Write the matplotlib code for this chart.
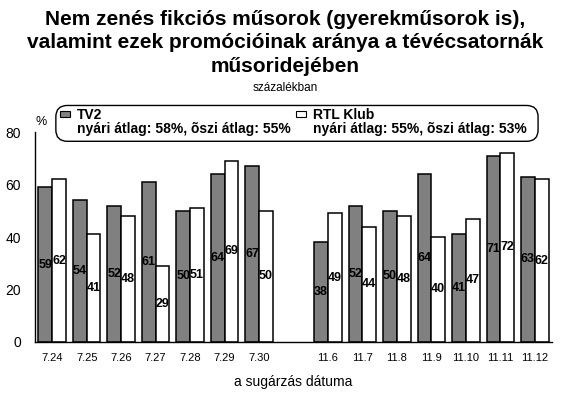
import numpy as np
import matplotlib
matplotlib.use('Agg')
import matplotlib.pyplot as plt
from matplotlib.patches import FancyBboxPatch, Rectangle

plt.rcParams['font.family'] = ['Liberation Sans', 'DejaVu Sans']

# adatok
dates = ['7.24', '7.25', '7.26', '7.27', '7.28', '7.29', '7.30', '',
         '11.6', '11.7', '11.8', '11.9', '11.10', '11.11', '11.12']
tv2 = [59, 54, 52, 61, 50, 64, 67, np.nan, 38, 52, 50, 64, 41, 71, 63]
rtl = [62, 41, 48, 29, 51, 69, 50, np.nan, 49, 44, 48, 40, 47, 72, 62]
series_names = ['TV2', 'RTL Klub']
series_notes = ['nyári átlag: 58%, õszi átlag: 55%',
                'nyári átlag: 55%, õszi átlag: 53%']
colors = ['#808080', '#ffffff']

title_lines = ['Nem zenés fikciós műsorok (gyerekműsorok is),',
               'valamint ezek promócióinak aránya a tévécsatornák',
               'műsoridejében']

fig = plt.figure(figsize=(5.7, 3.98), dpi=100)
ax = fig.add_axes([0.0614, 0.141, 0.907, 0.527])

x = np.arange(len(dates))
w = 0.4
b1 = ax.bar(x - w / 2, tv2, w, color=colors[0], edgecolor='black', linewidth=1.1)
b2 = ax.bar(x + w / 2, rtl, w, color=colors[1], edgecolor='black', linewidth=1.1)
for bars, vals in ((b1, tv2), (b2, rtl)):
    labs = ['' if np.isnan(v) else '%d' % v for v in vals]
    ax.bar_label(bars, labels=labs, label_type='center', fontsize=9, fontweight='bold')

ax.set_xlim(-0.5, len(dates) - 0.5)
ax.set_ylim(0, 80)
ax.set_yticks([0, 20, 40, 60, 80])
ax.set_xticks(x)
ax.set_xticklabels(dates, fontsize=8)
ax.tick_params(axis='y', length=0, pad=10, labelsize=10)
ax.tick_params(axis='x', length=0, pad=8)
for s in ('top', 'right'):
    ax.spines[s].set_visible(False)
for s in ('left', 'bottom'):
    ax.spines[s].set_linewidth(1.0)
ax.set_xlabel('a sugárzás dátuma', fontsize=10, labelpad=9)

# cím soronként, alapvonalra igazítva
for i, line in enumerate(title_lines):
    fig.text(0.5, 1 - (25 + 23.5 * i) / 398, line, ha='center', va='baseline',
             fontsize=15, fontweight='bold')
fig.text(0.5, 1 - 91 / 398, 'százalékban', ha='center', va='baseline', fontsize=8.5)
fig.text(0.072, 0.693, '%', ha='center', va='center', fontsize=9)

# jelmagyarázat kézzel, lekerekített keretben
box = FancyBboxPatch((0.098, 0.645), 0.846, 0.09, boxstyle='round,pad=0,rounding_size=0.02',
                     transform=fig.transFigure, facecolor='white', edgecolor='black',
                     linewidth=1.0, mutation_aspect=570 / 398)
fig.patches.append(box)
for i, (name, note, c) in enumerate(zip(series_names, series_notes, colors)):
    x0 = 0.105 + i * 0.414
    fig.patches.append(Rectangle((x0, 0.706), 0.017, 0.015, transform=fig.transFigure,
                                 facecolor=c, edgecolor='black', linewidth=0.8))
    fig.text(x0 + 0.030, 0.711, name, ha='left', va='center', fontsize=10, fontweight='bold')
    fig.text(x0 + 0.030, 0.676, note, ha='left', va='center', fontsize=10, fontweight='bold')

fig.savefig('out.png', dpi=100)
